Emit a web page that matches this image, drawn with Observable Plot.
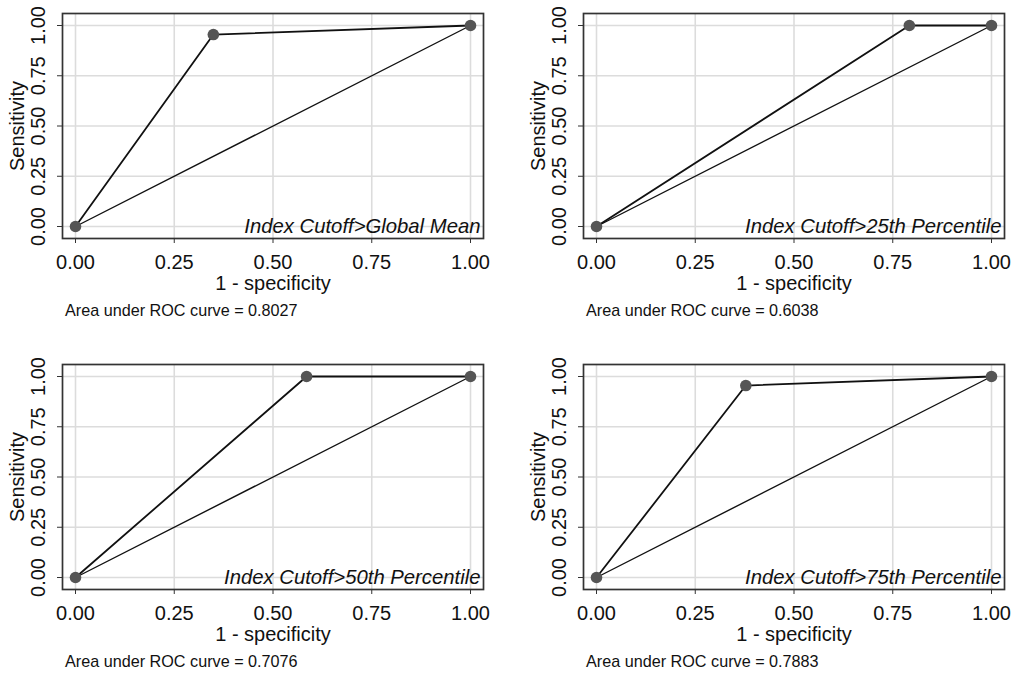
<!DOCTYPE html>
<html>
<head>
<meta charset="utf-8">
<script src="https://cdn.jsdelivr.net/npm/d3@7"></script>
<script src="https://cdn.jsdelivr.net/npm/@observablehq/plot@0.6"></script>
<style>
  html, body { margin: 0; padding: 0; background: #ffffff; overflow: hidden; }
  #root { position: relative; width: 1017px; height: 673px; background: #ffffff; }
  .panel { position: absolute; }
  .caption { position: absolute; left: 65px; top: 301.5px; font-family: "Liberation Sans", Arial, Helvetica, sans-serif; font-size: 16.2px; line-height: 16px; color: #111111; white-space: nowrap; }
</style>
</head>
<body>
<div id="root"></div>
<script>
// ---- data ----
const panelTitles = ["Index Cutoff>Global Mean", "Index Cutoff>25th Percentile", "Index Cutoff>50th Percentile", "Index Cutoff>75th Percentile"];
const cutFpr = [0.349, 0.792, 0.585, 0.378];   // 1 - specificity at the cutoff
const cutTpr = [0.955, 1.0, 1.0, 0.955];       // sensitivity at the cutoff
const aucLabels = ["0.8027", "0.6038", "0.7076", "0.7883"];
const rocStart = {x: 0, y: 0};
const rocEnd = {x: 1, y: 1};
const axisTicks = [0, 0.25, 0.5, 0.75, 1];
const xLabel = "1 - specificity";
const yLabel = "Sensitivity";
const captionPrefix = "Area under ROC curve = ";

const panelPos = [[0, 0], [521, 0], [0, 351], [521, 351]];

const root = document.getElementById("root");
const fmt = d3.format(".2f");

panelTitles.forEach((title, i) => {
  const roc = [rocStart, {x: cutFpr[i], y: cutTpr[i]}, rocEnd];
  const diag = [rocStart, rocEnd];
  const chart = Plot.plot({
    width: 496,
    height: 300,
    marginLeft: 62,
    marginRight: 13,
    marginTop: 13,
    marginBottom: 62,
    style: {fontFamily: '"Liberation Sans", Arial, Helvetica, sans-serif', fontSize: "20px", color: "#111111", background: "#ffffff"},
    x: {domain: [0, 1], insetLeft: 13, insetRight: 13},
    y: {domain: [0, 1], insetTop: 12, insetBottom: 12},
    marks: [
      Plot.gridX(axisTicks, {stroke: "#dcdcdc", strokeOpacity: 1, strokeWidth: 1.6}),
      Plot.gridY(axisTicks, {stroke: "#dcdcdc", strokeOpacity: 1, strokeWidth: 1.6}),
      Plot.text([title], {frameAnchor: "bottom-right", textAnchor: "end", lineAnchor: "bottom", dx: -3, dy: -6, fontStyle: "italic", fontSize: 20.3, fill: "#111111"}),
      Plot.line(diag, {x: "x", y: "y", stroke: "#111111", strokeWidth: 1.4}),
      Plot.line(roc, {x: "x", y: "y", stroke: "#111111", strokeWidth: 1.8}),
      Plot.dot(roc, {x: "x", y: "y", r: 5.8, fill: "#555555", stroke: "none"}),
      Plot.frame({stroke: "#333333", strokeWidth: 1.7}),
      Plot.axisX(axisTicks, {tickFormat: fmt, tickSize: 5, tickPadding: 11, fontSize: 20, label: xLabel, labelAnchor: "center", labelArrow: "none", labelOffset: 51, stroke: "#333333"}),
      Plot.axisY(axisTicks, {tickFormat: fmt, tickSize: 5, tickPadding: 13, tickRotate: -90, fontSize: 20, label: yLabel, labelAnchor: "center", labelArrow: "none", labelOffset: 53, stroke: "#333333"})
    ]
  });
  const panel = document.createElement("div");
  panel.className = "panel";
  panel.style.left = panelPos[i][0] + "px";
  panel.style.top = panelPos[i][1] + "px";
  panel.appendChild(chart);
  const cap = document.createElement("div");
  cap.className = "caption";
  cap.textContent = captionPrefix + aucLabels[i];
  panel.appendChild(cap);
  root.appendChild(panel);
});
</script>
</body>
</html>
